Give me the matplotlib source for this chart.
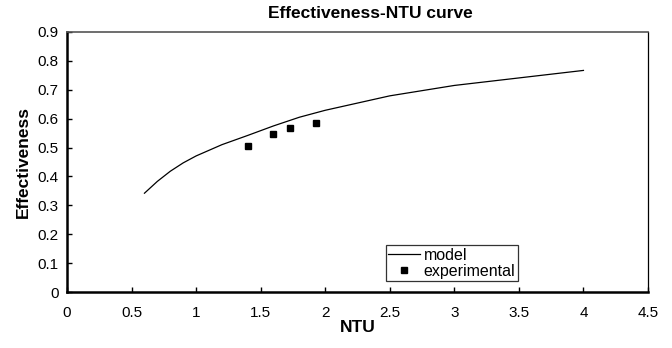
import matplotlib.pyplot as plt

plt.rcParams['font.family'] = ['Liberation Sans', 'DejaVu Sans']

# model curve
ntu_model = [0.6, 0.7, 0.8, 0.9, 1.0, 1.2, 1.4, 1.6, 1.8, 2.0, 2.5, 3.0, 3.5, 4.0]
eff_model = [0.342, 0.383, 0.418, 0.447, 0.471, 0.510, 0.542, 0.575, 0.605, 0.629,
             0.679, 0.715, 0.741, 0.767]

# measured points
ntu_exp = [1.405, 1.594, 1.729, 1.93]
eff_exp = [0.505, 0.546, 0.567, 0.586]

x_ticks = [0, 0.5, 1, 1.5, 2, 2.5, 3, 3.5, 4, 4.5]
y_ticks = [0, 0.1, 0.2, 0.3, 0.4, 0.5, 0.6, 0.7, 0.8, 0.9]

fig = plt.figure(figsize=(6.72, 3.48), dpi=100)
ax = fig.add_axes([67 / 672, 56 / 348, 581 / 672, 260 / 348])

ax.plot(ntu_model, eff_model, color='black', lw=0.9, label='model')
ax.plot(ntu_exp, eff_exp, ls='none', marker='s', ms=5, color='black', label='experimental')

ax.set_xlim(0, 4.5)
ax.set_ylim(0, 0.9)
ax.set_xticks(x_ticks)
ax.set_xticklabels([f'{t:g}' for t in x_ticks])
ax.set_yticks(y_ticks)
ax.set_yticklabels([f'{t:g}' for t in y_ticks])
ax.tick_params(direction='in', length=3.5, width=1, labelsize=11)
ax.tick_params(axis='y', pad=6)
ax.tick_params(axis='x', pad=10)

ax.spines['left'].set_linewidth(1.8)
ax.spines['bottom'].set_linewidth(1.8)
ax.spines['top'].set_linewidth(1.2)
ax.spines['top'].set_color('#555555')
ax.spines['right'].set_linewidth(0.9)

ax.set_xlabel('NTU', fontsize=12.5, fontweight='bold', labelpad=0)
ax.set_ylabel('Effectiveness', fontsize=12.5, fontweight='bold', labelpad=5)
fig.text(370 / 672, 1 - 14 / 348, 'Effectiveness-NTU curve', ha='center', va='center',
         fontsize=12.5, fontweight='bold')

leg = ax.legend(loc='lower left', bbox_to_anchor=(319 / 581, 11 / 260), frameon=True,
                fancybox=False, fontsize=11.5, handlelength=2.0, handletextpad=0.2,
                borderpad=0.15, labelspacing=0.05, borderaxespad=0)
leg.get_frame().set_edgecolor('black')
leg.get_frame().set_linewidth(0.9)

fig.savefig('out.png', dpi=100)
